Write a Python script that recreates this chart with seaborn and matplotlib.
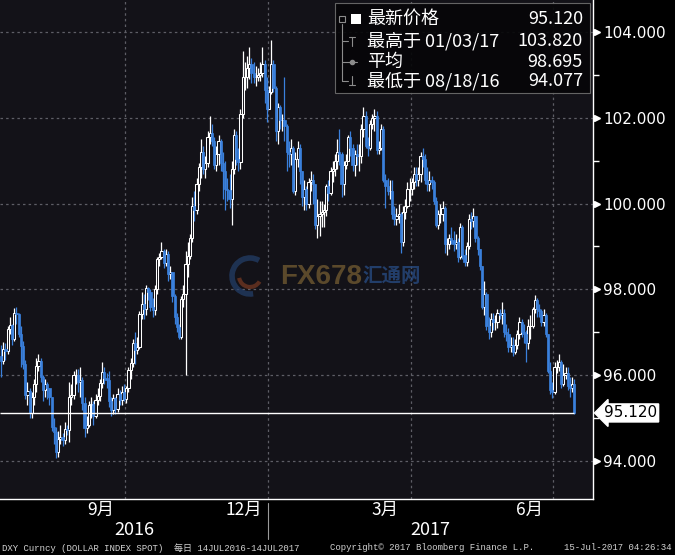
import matplotlib.pyplot as plt
from matplotlib.lines import Line2D
from matplotlib.patches import Rectangle, Arc
from matplotlib.transforms import blended_transform_factory
import numpy as np
import pandas as pd
import seaborn as sns

# DXY daily candles, 14 Jul 2016 - 14 Jul 2017
start_date = "2016-07-14"
end_date = "2017-07-14"
first_open = 96.45

close = [
    96.32, 96.62, 96.57, 97.07, 97.18, 96.85, 97.45, 97.42, 96.95, 96.68, 96.25, 95.53,  # Jul
    95.62, 95.13, 95.49, 95.80, 96.22, 96.33, 95.95, 95.65, 95.80, 95.70, 95.50, 94.80,
    94.68, 94.20, 94.52, 94.55, 94.48, 94.75, 94.72, 95.50, 95.53, 96.00, 96.00,  # Aug
    95.83, 95.88, 95.35, 94.77, 94.85, 95.30, 95.32, 95.05, 95.43, 95.52, 95.82, 96.08,
    95.93, 95.88, 95.40, 95.18, 95.46, 95.22, 95.57, 95.42, 95.60, 95.45,  # Sep
    95.70, 96.12, 96.28, 96.75, 96.58, 96.65, 97.42, 97.65, 97.55, 98.03, 97.95, 97.60,
    97.53, 98.00, 98.70, 98.75, 98.90, 98.62, 98.82, 98.35, 98.40,  # Oct
    97.85, 97.35, 97.12, 96.90, 97.78, 97.90, 98.60, 98.78, 99.20, 99.95, 99.85, 100.45,
    100.85, 101.20, 100.80, 100.95, 101.55, 101.65, 101.45, 100.90, 101.15, 101.45,  # Nov
    100.95, 100.75, 100.35, 100.32, 100.10, 100.80, 101.60, 101.05, 100.97, 102.10, 102.95,
    102.95, 103.15, 103.25, 103.05, 102.95, 102.95, 103.00, 103.05, 103.25, 102.65, 102.20,  # Dec
    102.60, 103.25, 102.70, 101.70, 102.25, 101.95, 101.95, 101.80, 101.20, 101.15, 101.30,
    100.30, 101.05, 101.30, 100.75, 100.15, 100.35, 100.00, 100.50, 100.55, 100.45, 99.50,  # Jan
    99.70, 99.75, 99.80, 99.85, 100.40, 100.25, 100.75, 100.80, 101.00, 101.20, 101.15,
    100.45, 100.90, 101.00, 101.55, 101.30, 100.90, 101.15, 101.10, 101.10,  # Feb
    101.75, 102.05, 101.35, 101.30, 101.85, 102.00, 102.05, 101.25, 101.30, 101.75, 100.55,
    100.40, 100.30, 100.30, 99.75, 99.65, 99.70, 99.75, 99.10, 99.80, 99.95, 100.35, 100.35,  # Mar
    100.50, 100.70, 100.55, 100.70, 101.10, 101.05, 100.55, 100.45, 100.55, 100.50, 100.05,
    99.50, 99.75, 99.75, 99.90, 99.05, 99.05, 99.20, 99.15, 99.05,  # Apr
    99.10, 98.75, 99.45, 98.80, 98.65, 99.00, 99.65, 99.60, 99.70, 99.20, 98.95, 98.55,
    97.60, 97.90, 97.15, 97.00, 97.30, 97.25, 97.25, 97.45, 97.40, 97.45, 97.00,  # May
    96.95, 96.65, 96.70, 96.55, 96.70, 96.95, 97.25, 97.00, 96.95, 96.75, 97.15, 97.15,
    97.55, 97.75, 97.55, 97.50, 97.25, 97.40, 96.95, 96.10, 95.65, 95.60,  # Jun
    96.20, 96.20, 96.30, 95.80, 96.00, 96.05, 95.75, 95.70, 95.80, 95.12,  # Jul
]

high = [
    96.70, 96.78, 96.75, 97.15, 97.35, 97.20, 97.57, 97.58, 97.45, 97.15, 96.80, 96.35,
    95.85, 95.70, 95.60, 95.90, 96.40, 96.50, 96.40, 96.00, 95.90, 95.85, 95.70, 95.50,
    95.00, 94.80, 94.70, 94.85, 94.65, 94.90, 94.85, 95.85, 95.80, 96.10, 96.15,
    96.15, 96.20, 95.95, 95.50, 95.05, 95.40, 95.50, 95.40, 95.55, 95.70, 95.90, 96.30,
    96.20, 96.05, 96.10, 95.50, 95.55, 95.50, 95.70, 95.65, 95.75, 95.80,
    95.75, 96.20, 96.40, 96.85, 97.00, 96.90, 97.50, 97.95, 97.90, 98.10, 98.05, 98.00,
    97.80, 98.10, 98.75, 98.85, 99.10, 98.95, 98.95, 98.90, 98.55,
    98.40, 97.90, 97.45, 97.20, 97.85, 98.10, 98.90, 99.10, 99.30, 100.15, 100.30, 100.60,
    100.95, 101.50, 101.35, 101.10, 101.70, 102.05, 101.85, 101.55, 101.35, 101.60,
    101.50, 101.20, 101.00, 100.60, 100.70, 101.00, 101.75, 101.70, 101.30, 102.20, 103.56,
    103.30, 103.45, 103.65, 103.40, 103.30, 103.20, 103.15, 103.30, 103.65, 103.35, 102.95,
    102.75, 103.82, 103.35, 102.75, 102.35, 102.30, 102.10, 102.95, 101.85, 101.45, 101.50,
    101.35, 101.20, 101.45, 101.40, 100.75, 100.55, 100.40, 100.60, 100.75, 100.70, 100.45,
    100.10, 100.05, 100.05, 100.00, 100.45, 100.55, 100.85, 101.00, 101.15, 101.50, 101.75,
    101.20, 101.00, 101.15, 101.60, 101.70, 101.40, 101.25, 101.40, 101.40,
    101.85, 102.26, 102.15, 101.55, 101.95, 102.10, 102.20, 102.15, 101.45, 101.85, 101.80,
    100.70, 100.60, 100.55, 100.55, 99.95, 99.90, 100.00, 99.80, 99.95, 100.10, 100.50, 100.60,
    100.60, 100.85, 100.85, 100.85, 101.20, 101.30, 101.15, 100.85, 100.75, 100.65, 100.55,
    100.15, 99.85, 100.00, 100.05, 99.95, 99.20, 99.30, 99.45, 99.35,
    99.30, 99.20, 99.55, 99.50, 98.95, 99.10, 99.75, 99.80, 99.90, 99.70, 99.25, 98.95,
    98.55, 98.20, 97.95, 97.35, 97.45, 97.45, 97.40, 97.55, 97.55, 97.70, 97.55,
    97.20, 97.10, 96.90, 96.90, 96.85, 97.05, 97.35, 97.30, 97.20, 97.05, 97.30, 97.40,
    97.60, 97.87, 97.80, 97.65, 97.55, 97.55, 97.45, 96.95, 96.30, 95.85,
    96.30, 96.35, 96.50, 96.35, 96.25, 96.20, 96.20, 95.95, 95.95, 95.90,
]

low = [
    95.95, 96.25, 96.35, 96.50, 96.95, 96.70, 96.80, 97.20, 96.90, 96.20, 96.15, 95.45,
    95.30, 95.00, 95.00, 95.30, 95.60, 96.10, 95.85, 95.40, 95.50, 95.45, 95.30, 94.70,
    94.40, 94.08, 94.10, 94.40, 94.35, 94.40, 94.60, 94.45, 95.30, 95.45, 95.80,
    95.60, 95.50, 95.20, 94.55, 94.65, 94.80, 95.00, 94.85, 95.00, 95.30, 95.40, 95.70,
    95.80, 95.70, 95.25, 95.05, 95.10, 95.10, 95.15, 95.30, 95.30, 95.40,
    95.35, 95.60, 95.90, 96.20, 96.25, 96.50, 96.60, 97.30, 97.30, 97.40, 97.75, 97.50,
    97.35, 97.40, 97.90, 98.55, 98.70, 98.50, 98.55, 98.20, 98.25,
    97.70, 97.20, 97.00, 96.85, 96.85, 97.60, 96.00, 98.30, 98.70, 99.10, 99.60, 99.75,
    100.30, 100.60, 100.70, 100.60, 100.85, 101.40, 101.35, 100.80, 100.75, 100.90,
    100.75, 100.10, 99.85, 100.05, 99.90, 99.50, 100.70, 100.90, 100.75, 100.80, 102.00,
    102.65, 102.70, 102.90, 102.80, 102.80, 102.75, 102.85, 102.85, 102.95, 102.35, 101.90,
    102.20, 102.55, 102.60, 101.45, 101.40, 101.75, 101.70, 101.45, 100.75, 100.85, 100.90,
    100.25, 100.20, 100.85, 100.45, 99.95, 99.85, 99.85, 99.90, 100.30, 100.00, 99.40,
    99.20, 99.25, 99.45, 99.45, 99.70, 100.05, 100.20, 100.50, 100.65, 100.80, 100.90,
    100.15, 100.20, 100.80, 101.00, 101.10, 100.75, 100.65, 100.90, 100.75,
    100.95, 101.55, 101.30, 101.10, 101.25, 101.75, 101.70, 101.15, 101.15, 101.25, 100.50,
    99.90, 100.20, 100.10, 99.65, 99.50, 99.50, 99.55, 98.85, 99.00, 99.65, 99.90, 100.05,
    100.20, 100.35, 100.40, 100.40, 100.50, 100.85, 100.45, 100.30, 100.30, 100.35, 100.00,
    99.45, 99.40, 99.55, 99.60, 98.85, 98.80, 98.95, 99.05, 98.90,
    98.95, 98.65, 98.70, 98.70, 98.55, 98.55, 98.95, 99.40, 99.45, 99.10, 98.80, 98.45,
    97.55, 97.40, 97.05, 96.85, 96.90, 97.05, 97.05, 97.10, 97.30, 97.20, 96.90,
    96.80, 96.55, 96.55, 96.45, 96.50, 96.60, 96.85, 96.90, 96.75, 96.30, 96.60, 96.85,
    97.10, 97.45, 97.35, 97.35, 97.15, 97.15, 96.90, 96.05, 95.55, 95.47,
    95.55, 96.05, 96.10, 95.70, 95.75, 95.90, 95.65, 95.50, 95.60, 95.10,
]

# legend box figures
legend_labels = ["最新价格", "最高于 01/03/17", "平均", "最低于 08/18/16"]
legend_values = [95.120, 103.820, 98.695, 94.077]
last_price = 95.120

y_ticks = [94, 96, 98, 100, 102, 104]
y_minor = [95, 97, 99, 101, 103]
label_months = [9, 12, 3, 6]

BG = "#131218"
BLUE = "#3a80dc"
GRID = "#5e5e66"

sns.set_theme(style="dark", rc={"axes.facecolor": BG, "figure.facecolor": "black"})
plt.rcParams["font.family"] = ["Noto Sans CJK SC", "DejaVu Sans"]

W, H = 675, 555


def px(x, y):
    return x / W, 1 - y / H


dates = pd.bdate_range(start_date, end_date)
df = pd.DataFrame({"date": dates, "close": close, "high": high, "low": low})
df["open"] = [first_open] + close[:-1]
df["x"] = np.arange(len(df))
up = df["close"] >= df["open"]

fig = plt.figure(figsize=(W / 100, H / 100), dpi=100, facecolor="black")
ax = fig.add_axes([0, 1 - 499 / H, 593 / W, 499 / H])
ax.set_facecolor(BG)
ax.set_xlim(-0.5, 269.5)
ax.set_ylim(93.114, 104.746)

# grid: dashed at major values and quarter boundaries
month_change = df["date"].dt.month != df["date"].shift().dt.month
month_change.iloc[0] = False
bounds = df.loc[month_change, ["x", "date"]]
quarter_bounds = bounds[bounds["date"].dt.month.isin([1, 4, 7, 10])]["x"] - 0.5
for v in y_ticks:
    ax.axhline(v, color=GRID, lw=0.9, ls=(0, (2, 2.5)), zorder=1)
for q in quarter_bounds:
    ax.axvline(q, color=GRID, lw=0.9, ls=(0, (2, 2.5)), zorder=1)

# candles
ax.vlines(df.loc[up, "x"], df.loc[up, "low"], df.loc[up, "high"], color="white", lw=0.9, zorder=3)
ax.vlines(df.loc[~up, "x"], df.loc[~up, "low"], df.loc[~up, "high"], color=BLUE, lw=0.9, zorder=3)
ax.bar(df.loc[up, "x"], (df["close"] - df["open"])[up], bottom=df.loc[up, "open"],
       width=1.0, facecolor=BG, edgecolor="white", linewidth=0.75, zorder=4)
ax.bar(df.loc[~up, "x"], (df["open"] - df["close"])[~up], bottom=df.loc[~up, "close"],
       width=1.0, facecolor=BLUE, edgecolor=BLUE, linewidth=0.5, zorder=4)

# last price line
ax.hlines(last_price, -0.5, df["x"].iloc[-1], color="white", lw=1, zorder=5)

# spines
for s in ["top", "left"]:
    ax.spines[s].set_visible(False)
for s in ["right", "bottom"]:
    ax.spines[s].set_color("white")
    ax.spines[s].set_linewidth(1)

# y axis on the right
ax.yaxis.tick_right()
ax.set_yticks(y_ticks)
ax.set_yticklabels([f"{v:.3f}" for v in y_ticks], family="DejaVu Sans")
ax.set_yticks(y_minor, minor=True)
ax.tick_params(axis="y", which="major", length=0, pad=7.5, labelsize=11, labelcolor="white")
ax.tick_params(axis="y", which="minor", length=4, width=1, color="white", direction="out")
ybl = blended_transform_factory(ax.transAxes, ax.transData)
ax.plot([1.0075] * len(y_ticks), y_ticks, ls="none", marker=">", ms=5, color="white",
        transform=ybl, clip_on=False)
ax.text(1.0185, last_price, f"{last_price:.3f}", transform=ybl, ha="left", va="center",
        fontsize=11, color="black", family="DejaVu Sans",
        bbox=dict(boxstyle="larrow,pad=0.1", fc="white", ec="white"))

# x axis: month ticks, month and year labels
ax.set_xticks(bounds["x"] - 0.5)
ax.set_xticklabels([])
ax.tick_params(axis="x", which="major", length=5, width=1, color="white", direction="out")
xbl = blended_transform_factory(ax.transData, fig.transFigure)
for m in label_months:
    centre = df.loc[df["date"].dt.month == m, "x"].mean()
    ax.text(centre, px(0, 510)[1], f"{m}月", transform=xbl, ha="center", va="center",
            fontsize=12.5, color="white")
for yr in df["date"].dt.year.unique():
    sel = df["date"].dt.year == yr
    lo = max(df.loc[sel, "x"].min() - 0.5, -0.5)
    hi = 269.5 if yr == df["date"].dt.year.max() else df.loc[sel, "x"].max() + 0.5
    ax.text((lo + hi) / 2, px(0, 530)[1], str(yr), transform=xbl, ha="center", va="center",
            fontsize=13, color="white")
year_bound = bounds[bounds["date"].dt.month == 1]["x"].iloc[0] - 0.5
ax.add_line(Line2D([year_bound, year_bound], [px(0, 503)[1], px(0, 539)[1]], transform=xbl,
                   color="#9a9a9a", lw=0.8, clip_on=False))

# watermark
fig.add_artist(Arc((2.50, (H - 276) / 100), 0.36, 0.36, theta1=60, theta2=280,
                   transform=fig.dpi_scale_trans, color="#24406c", lw=4, alpha=0.7))
fig.add_artist(Arc((2.50, (H - 276) / 100), 0.22, 0.22, theta1=190, theta2=330,
                   transform=fig.dpi_scale_trans, color="#7a3a22", lw=3, alpha=0.7))
fig.text(*px(280, 277), "FX678", fontsize=20, weight="bold", color="#6e5830",
         family="Liberation Sans", va="center", ha="left", alpha=0.8)
fig.text(*px(362, 277), "汇通网", fontsize=14, weight="bold", color="#274a80",
         va="center", ha="left", alpha=0.8)

# legend box
fig.add_artist(Rectangle(px(335, 93), 255 / W, 90 / H, transform=fig.transFigure,
                         fc="#060608", ec="#6c6c6c", lw=0.8, alpha=0.92, zorder=6))
tree = "#8c8c8c"
seg = [((342, 24), (342, 81)), ((342, 41), (348, 41)), ((342, 62), (348, 62)),
       ((342, 81), (348, 81)), ((349, 37), (355, 37)), ((352, 37), (352, 46)),
       ((348, 62), (357, 62)), ((352, 76), (352, 85)), ((349, 85), (355, 85))]
for (x0, y0), (x1, y1) in seg:
    fig.add_artist(Line2D([x0 / W, x1 / W], [1 - y0 / H, 1 - y1 / H], color=tree, lw=0.8,
                          transform=fig.transFigure, zorder=7))
fig.add_artist(Rectangle(px(339, 22), 6 / W, 6 / H, transform=fig.transFigure,
                         fc="none", ec=tree, lw=0.8, zorder=7))
fig.add_artist(Rectangle(px(351, 24), 10 / W, 10 / H, transform=fig.transFigure,
                         fc="white", ec="white", lw=0, zorder=7))
fig.add_artist(Line2D([352 / W], [1 - 62 / H], marker="o", ms=3, color=tree,
                      transform=fig.transFigure, zorder=8))
for row_y, lab, val in zip([19, 41, 62, 81], legend_labels, legend_values):
    fig.text(*px(367, row_y), lab, fontsize=13, color="white", va="center", ha="left", zorder=8)
    fig.text(*px(583, row_y), f"{val:.3f}", fontsize=13, color="white", va="center",
             ha="right", zorder=8)

# footer
foot = dict(fontsize=6.5, color="#d2d2d2", va="center",
            family=["Liberation Mono", "Noto Sans CJK SC"])
fig.text(*px(2, 548), "DXY Curncy (DOLLAR INDEX SPOT)  每日 14JUL2016-14JUL2017", ha="left", **foot)
fig.text(*px(330, 548), "Copyright© 2017 Bloomberg Finance L.P.", ha="left", **foot)
fig.text(*px(672, 548), "15-Jul-2017 04:26:34", ha="right", **foot)

fig.savefig("out.png", dpi=100, facecolor="black")
